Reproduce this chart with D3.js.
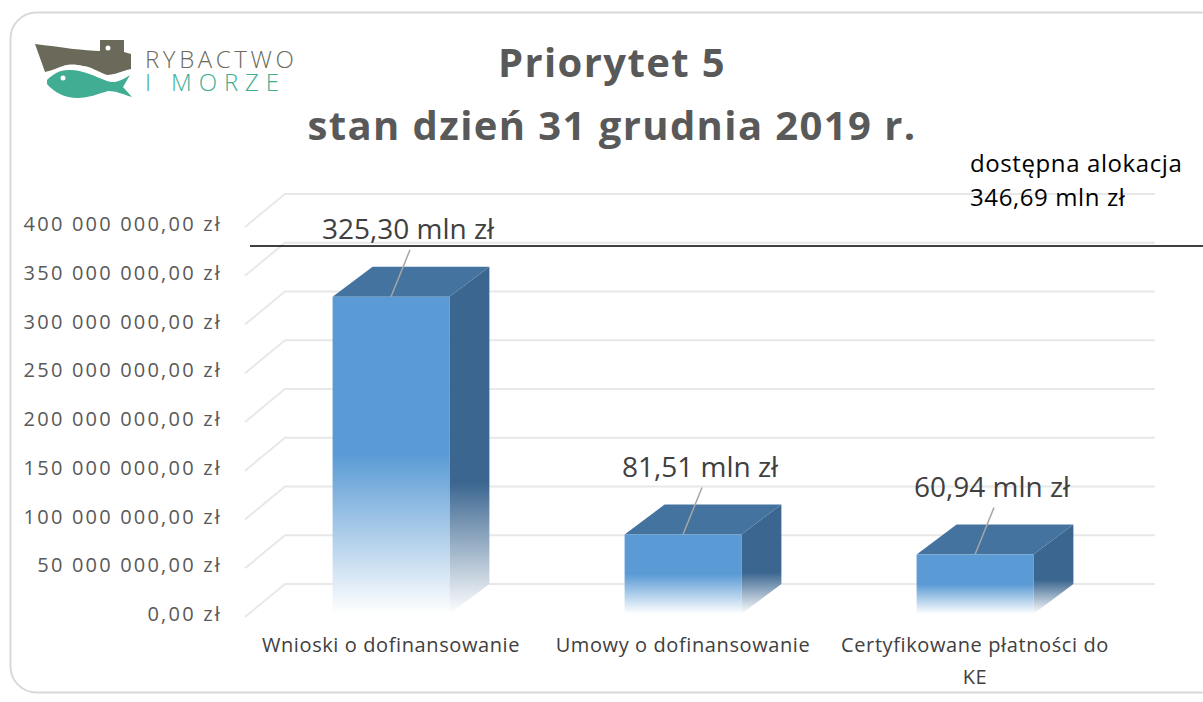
<!DOCTYPE html>
<html>
<head>
<meta charset="utf-8">
<script src="https://cdn.jsdelivr.net/npm/d3@7"></script>
<style>
  body { margin: 0; background: #fff; }
  svg { display: block; }
</style>
</head>
<body>
<script>
var categories = ['Wnioski o dofinansowanie', 'Umowy o dofinansowanie', 'Certyfikowane płatności do KE']
var values = [325.30e6, 81.51e6, 60.94e6]
var valueLabels = ['325,30 mln zł', '81,51 mln zł', '60,94 mln zł']
var yTicks = [0, 50e6, 100e6, 150e6, 200e6, 250e6, 300e6, 350e6, 400e6]
var allocation = 346.69e6
var allocationText = ['dostępna alokacja', '346,69 mln zł']
var titleLines = ['Priorytet 5', 'stan dzień 31 grudnia 2019 r.']

var width = 1203, height = 702
var depthX = 40, depthY = -30
var font = "'Open Sans', sans-serif"

var svg = d3.select('body').append('svg')
  .attr('width', width)
  .attr('height', height)

var y = d3.scaleLinear().domain([0, 400e6]).range([614, 224])
var x = d3.scaleBand().domain(categories).range([245, 1121])
  .paddingInner(0.6).paddingOuter(0.3)

// formats like 350 000 000,00 zł
var fmt = d3.formatLocale({ decimal: ',', thousands: ' ', grouping: [3], currency: ['', ' zł'] })
var tickFmt = fmt.format('$,.2f')

var defs = svg.append('defs')
function fade(id, c, start) {
  var g = defs.append('linearGradient').attr('id', id)
    .attr('x1', 0).attr('y1', 0).attr('x2', 0).attr('y2', 1)
  g.append('stop').attr('offset', 0).attr('stop-color', c)
  g.append('stop').attr('offset', start).attr('stop-color', c)
  g.append('stop').attr('offset', 1).attr('stop-color', '#fff')
}
fade('frontFade', '#5b9bd5', 0.5)
fade('sideFade', '#3b6690', 0.62)

// card
svg.append('rect')
  .attr('x', 10.5).attr('y', 12.5).attr('width', 1220).attr('height', 680)
  .attr('rx', 26).attr('fill', '#fff')
  .attr('stroke', '#d9d9d9').attr('stroke-width', 2)

// logo
var logo = svg.append('g')
logo.append('path')
  .attr('d', 'M35,44 C60,47 85,51 100,51 L100,40 L124,40 L124,52 L131,54 L131,69 C122,71 114,75 107,75 C98,72 90,66 83,66 C76,64 68,64 63,66 C55,69 50,71 45,72 Z')
  .attr('fill', '#6b6a5a')
logo.append('circle').attr('cx', 108).attr('cy', 48).attr('r', 2.5).attr('fill', '#fff')
logo.append('path')
  .attr('d', 'M47,80 C53,74 60,70 68,70 C80,69 95,76 107,81 C115,84 122,80 130,75 L123,87 L132,97 C122,94 116,91 108,91 C98,94 88,98 78,98 C64,98 54,92 47,84 Z')
  .attr('fill', '#41ad93')
logo.append('circle').attr('cx', 63).attr('cy', 78).attr('r', 2.5).attr('fill', '#fff')
logo.append('text').attr('x', 145).attr('y', 68)
  .attr('font-family', font).attr('font-size', 24).attr('font-weight', 300)
  .attr('letter-spacing', 3.6).attr('fill', '#6b6a5a').text('RYBACTWO')
logo.append('text').attr('x', 145).attr('y', 91)
  .attr('font-family', font).attr('font-size', 24).attr('font-weight', 300)
  .attr('letter-spacing', 6.9).attr('fill', '#41ad93').text('I MORZE')

// title
svg.selectAll('.title').data(titleLines).enter().append('text')
  .attr('x', 612).attr('y', (d, i) => 77 + i * 63)
  .attr('text-anchor', 'middle')
  .attr('font-family', font).attr('font-weight', 700).attr('font-size', 40)
  .attr('letter-spacing', 1.4)
  .attr('fill', '#595959').text(d => d)

// grid: diagonal on the side wall, then along the back wall
var grid = svg.append('g')
grid.selectAll('path').data(yTicks).enter().append('path')
  .attr('d', d => 'M245,' + (y(d) + 3) + ' L' + (245 + depthX) + ',' + (y(d) + depthY) + ' L1155,' + (y(d) + depthY))
  .attr('fill', 'none').attr('stroke', '#e8e8e8').attr('stroke-width', 2)

// y labels
svg.selectAll('.ytick').data(yTicks).enter().append('text')
  .attr('x', 222).attr('y', d => y(d) + 7)
  .attr('text-anchor', 'end')
  .attr('font-family', font).attr('font-size', 20)
  .attr('letter-spacing', 2.2)
  .attr('fill', '#595959').text(d => tickFmt(d))

// bars
var bars = svg.selectAll('.bar').data(values).enter().append('g')
bars.each(function (v, i) {
  var g = d3.select(this)
  var x0 = x(categories[i]), x1 = x0 + x.bandwidth()
  var yt = y(v), yb = y(0)
  g.append('path')
    .attr('d', 'M' + x1 + ',' + yt + ' L' + (x1 + depthX) + ',' + (yt + depthY) + ' L' + (x1 + depthX) + ',' + (yb + depthY) + ' L' + x1 + ',' + yb + 'Z')
    .attr('fill', 'url(#sideFade)')
  g.append('path')
    .attr('d', 'M' + x0 + ',' + yt + ' L' + (x0 + depthX) + ',' + (yt + depthY) + ' L' + (x1 + depthX) + ',' + (yt + depthY) + ' L' + x1 + ',' + yt + 'Z')
    .attr('fill', '#44739f')
  g.append('rect')
    .attr('x', x0).attr('y', yt).attr('width', x.bandwidth()).attr('height', yb - yt)
    .attr('fill', 'url(#frontFade)')
})

// allocation line
var ya = y(allocation) + depthY
svg.append('line')
  .attr('x1', 250).attr('x2', width).attr('y1', ya).attr('y2', ya)
  .attr('stroke', '#000').attr('stroke-width', 1.5)
svg.selectAll('.alloc').data(allocationText).enter().append('text')
  .attr('x', 970).attr('y', (d, i) => 172 + i * 34)
  .attr('font-family', font).attr('font-size', 24)
  .attr('letter-spacing', 0.6)
  .attr('fill', '#000').text(d => d)

// data labels with leader lines
values.forEach(function (v, i) {
  var cx = x(categories[i]) + x.bandwidth() / 2
  var yt = y(v)
  svg.append('line')
    .attr('x1', cx + 19).attr('y1', yt - 47).attr('x2', cx).attr('y2', yt)
    .attr('stroke', '#a6a6a6').attr('stroke-width', 1.5)
  svg.append('text')
    .attr('x', cx + 17).attr('y', yt - 58)
    .attr('text-anchor', 'middle')
    .attr('font-family', font).attr('font-size', 28)
    .attr('fill', '#404040').text(valueLabels[i])
})

// x labels, wrapped like the original
var xLines = [['Wnioski o dofinansowanie'], ['Umowy o dofinansowanie'], ['Certyfikowane płatności do', 'KE']]
categories.forEach(function (c, i) {
  var cx = x(c) + x.bandwidth() / 2
  svg.append('text')
    .attr('x', cx).attr('y', 652)
    .attr('text-anchor', 'middle')
    .attr('font-family', font).attr('font-size', 20)
    .attr('letter-spacing', 0.6)
    .attr('fill', '#404040')
    .selectAll('tspan').data(xLines[i]).enter().append('tspan')
      .attr('x', cx).attr('dy', (d, j) => j ? 32 : 0).text(d => d)
})
</script>
</body>
</html>
